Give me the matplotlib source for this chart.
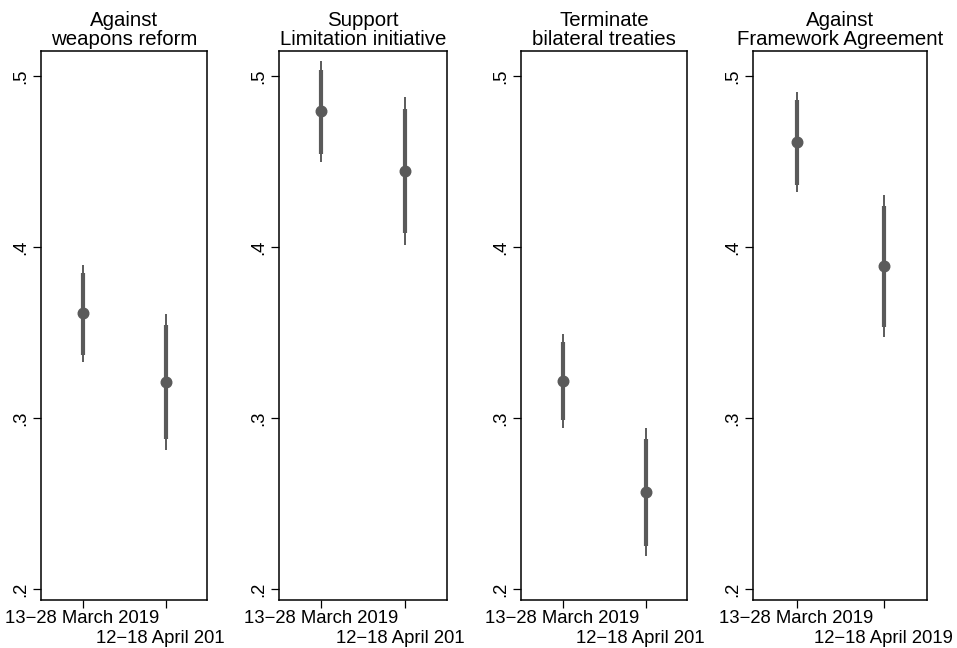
import matplotlib
matplotlib.use("Agg")
import matplotlib.pyplot as plt
from matplotlib.transforms import Bbox, TransformedBbox

plt.rcParams['font.family'] = ['Liberation Sans', 'DejaVu Sans']

# ---------------- data ----------------
titles = ["Against\nweapons reform",
          "Support\nLimitation initiative",
          "Terminate\nbilateral treaties",
          "Against\nFramework Agreement"]
periods = ["13\u221228 March 2019", "12\u221218 April 2019"]
y_ticks = [0.2, 0.3, 0.4, 0.5]
y_tick_labels = [".2", ".3", ".4", ".5"]

estimates = [[0.3612, 0.3212],
             [0.4795, 0.4443],
             [0.3216, 0.2567],
             [0.4613, 0.3889]]
inner_low = [[0.3370, 0.2877],
             [0.4544, 0.4079],
             [0.2986, 0.2253],
             [0.4364, 0.3534]]
inner_high = [[0.3848, 0.3546],
              [0.5037, 0.4808],
              [0.3444, 0.2879],
              [0.4857, 0.4238]]
outer_low = [[0.3327, 0.2815],
             [0.4499, 0.4011],
             [0.2939, 0.2195],
             [0.4320, 0.3472]]
outer_high = [[0.3896, 0.3610],
              [0.5086, 0.4877],
              [0.3491, 0.2942],
              [0.4906, 0.4303]]

# ---------------- layout ----------------
W, H = 957, 648
fig = plt.figure(figsize=(W / 100, H / 100), dpi=100)
lefts = [41, 279, 521, 753]
widths = [166, 168, 166, 174]
top_px, bottom_px = 51, 600
clip_right = [224.5, 465.0, 703.5, 957]

color = "#5a5a5a"
fs_tick = 13.3
fs_title = 14.7
xpos = [1, 2]

for i in range(4):
    ax = fig.add_axes([lefts[i] / W, 1 - bottom_px / H,
                       widths[i] / W, (bottom_px - top_px) / H])
    ax.vlines(xpos, outer_low[i], outer_high[i], color=color, lw=1.4, zorder=2)
    ax.vlines(xpos, inner_low[i], inner_high[i], color=color, lw=3.0, zorder=3)
    ax.plot(xpos, estimates[i], 'o', color=color, ms=7.6, mec=color, zorder=4)

    ax.set_xlim(0.5, 2.5)
    ax.set_ylim(0.1936, 0.5146)
    ax.set_yticks(y_ticks)
    ax.set_yticklabels(y_tick_labels, rotation=90, va='center', fontsize=fs_tick)
    ax.set_xticks(xpos)
    ax.set_xticklabels(periods, fontsize=fs_tick)
    ax.tick_params(axis='both', direction='out', length=5.8, width=0.9,
                   color='black')
    ax.tick_params(axis='x', pad=1.5)
    ax.tick_params(axis='y', pad=3)
    for sp in ax.spines.values():
        sp.set_linewidth(1.1)
        sp.set_color('black')
    ax.set_title(titles[i], fontsize=fs_title, pad=4.3, linespacing=1.02)

    ticks = ax.xaxis.get_major_ticks()
    ticks[1].set_pad(1.5 + 14.5)
    cb = TransformedBbox(Bbox([[0, 0], [clip_right[i] / W, 1]]), fig.transFigure)
    for t in ticks:
        t.label1.set_clip_on(True)
        t.label1.set_clip_box(cb)

fig.savefig("out.png", dpi=100)
